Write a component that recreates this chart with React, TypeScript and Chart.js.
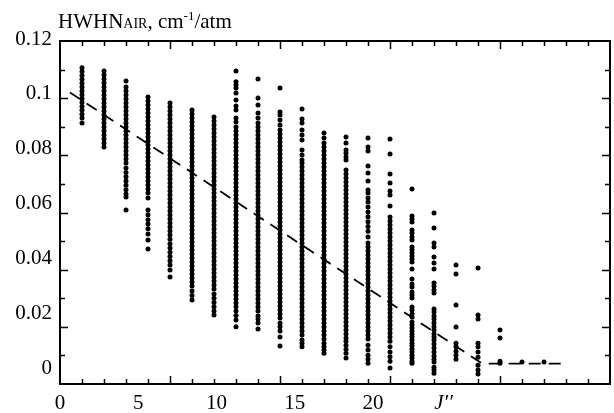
import React, { useEffect, useRef } from 'react';
import { Chart, registerables } from 'chart.js';

Chart.register(...registerables);

// Column positions on the x axis (one column of lines per tick)
const columns = [1, 2, 3, 4, 5, 6, 7, 8, 9, 10, 11, 12, 13, 14, 15, 16, 17, 18, 19, 20, 21, 22];

// HWHN(air) values, in 10^-3 cm-1/atm, read column by column
const col1 = [110.6, 109.3, 107.9, 106.6, 105.2, 103.9, 102.5, 101.2, 99.8, 98.5, 97.1, 95.8, 94.4, 93.1, 91.3];
const col2 = [109.5, 108.1, 106.7, 105.3, 103.9, 102.5, 101.1, 99.7, 98.3, 96.9, 95.5, 94.1, 92.7, 91.3, 89.9, 88.5, 87.1, 85.7, 84.3, 82.9];
const col3 = [106.0, 103.9, 102.5, 101.1, 99.7, 98.3, 96.9, 95.5, 94.1, 92.7, 91.3, 89.9, 88.5, 87.1, 85.7, 84.3, 82.9, 81.5, 80.1, 78.7, 77.3, 75.6, 74.0, 72.5, 71.0, 69.5, 68.0, 66.5, 65.4, 60.9];
const col4 = [100.4, 99.0, 97.6, 96.2, 94.8, 93.4, 92.0, 90.6, 89.2, 87.8, 86.4, 85.0, 83.6, 82.2, 80.8, 79.4, 78.0, 76.6, 75.2, 73.8, 72.4, 71.0, 69.6, 68.2, 66.8, 65.1, 60.9, 59.2, 57.5, 56.0, 54.3, 52.5, 50.4, 47.2];
const col5 = [98.3, 96.9, 95.5, 94.1, 92.7, 91.3, 89.9, 88.5, 87.1, 85.7, 84.3, 82.9, 81.5, 80.1, 78.7, 77.3, 75.9, 74.5, 73.1, 71.7, 70.3, 68.9, 67.5, 66.1, 64.7, 63.3, 61.9, 60.5, 59.1, 57.7, 56.3, 54.9, 53.5, 52.1, 50.6, 49.1, 47.6, 46.1, 44.6, 43.1, 41.6, 39.9, 37.4];
const col6 = [95.9, 94.5, 93.1, 91.7, 90.3, 88.9, 87.5, 86.1, 84.7, 83.3, 81.9, 80.5, 79.1, 77.7, 76.3, 74.9, 73.5, 72.1, 70.7, 69.3, 67.9, 66.5, 65.1, 63.7, 62.3, 60.9, 59.5, 58.1, 56.7, 55.3, 53.9, 52.5, 51.1, 49.7, 48.3, 46.9, 45.5, 44.1, 42.7, 41.3, 39.9, 38.5, 37.1, 35.7, 34.3, 32.5, 31.0, 29.4];
const col7 = [93.4, 92.0, 90.6, 89.2, 87.8, 86.4, 85.0, 83.6, 82.2, 80.8, 79.4, 78.0, 76.6, 75.2, 73.8, 72.4, 71.0, 69.6, 68.2, 66.8, 65.4, 64.0, 62.6, 61.2, 59.8, 58.4, 57.0, 55.6, 54.2, 52.8, 51.4, 50.0, 48.6, 47.2, 45.8, 44.4, 43.0, 41.6, 40.2, 38.8, 37.4, 36.0, 34.6, 33.2, 31.5, 30.0, 28.5, 27.0, 25.5, 24.1];
const col8 = [109.5, 105.7, 104.6, 103.6, 101.8, 99.4, 97.3, 95.9, 93.1, 91.7, 89.9, 88.5, 87.1, 85.7, 84.3, 82.9, 81.5, 80.1, 78.7, 77.3, 75.9, 74.5, 73.1, 71.7, 70.3, 68.9, 67.5, 66.1, 64.7, 63.3, 61.9, 60.5, 59.1, 57.7, 56.3, 54.9, 53.5, 52.1, 50.7, 49.3, 47.9, 46.5, 45.1, 43.7, 42.3, 40.9, 39.5, 38.1, 36.7, 35.3, 33.9, 32.5, 31.1, 29.7, 28.3, 27.0, 25.5, 24.0, 22.4, 20.0];
const col9 = [106.7, 100.1, 97.6, 94.8, 93.1, 91.3, 89.9, 88.5, 87.1, 85.7, 84.3, 82.9, 81.5, 80.1, 78.7, 77.3, 75.9, 74.5, 73.1, 71.7, 70.3, 68.9, 67.5, 66.1, 64.7, 63.3, 61.9, 60.5, 59.1, 57.7, 56.3, 54.9, 53.5, 52.1, 50.7, 49.3, 47.9, 46.5, 45.1, 43.7, 42.3, 40.9, 39.5, 38.1, 36.7, 35.3, 33.9, 32.5, 31.1, 29.7, 28.3, 26.9, 25.5, 23.8, 22.7, 21.3, 19.2];
const col10 = [103.6, 95.2, 94.1, 92.4, 90.6, 88.9, 87.5, 86.1, 84.7, 83.3, 81.9, 80.5, 79.1, 77.7, 76.3, 74.9, 73.5, 72.1, 70.7, 69.3, 67.9, 66.5, 65.1, 63.7, 62.3, 60.9, 59.5, 58.1, 56.7, 55.3, 53.9, 52.5, 51.1, 49.7, 48.3, 46.9, 45.5, 44.1, 42.7, 41.3, 39.9, 38.5, 37.1, 35.7, 34.3, 32.9, 31.5, 30.1, 28.7, 27.3, 25.9, 24.5, 23.1, 21.3, 20.0, 18.5, 16.4, 13.3];
const col11 = [96.2, 92.7, 91.3, 88.9, 87.1, 85.4, 81.9, 80.1, 78.4, 77.3, 75.9, 74.5, 73.1, 71.7, 70.3, 68.9, 67.5, 66.1, 64.7, 63.3, 61.9, 60.5, 59.1, 57.7, 56.3, 54.9, 53.5, 52.1, 50.7, 49.3, 47.9, 46.5, 45.1, 43.7, 42.3, 40.9, 39.5, 38.1, 36.7, 35.3, 33.9, 32.5, 31.1, 29.7, 28.3, 26.9, 25.5, 24.1, 22.7, 21.3, 19.9, 18.5, 17.1, 15.4, 14.3, 13.0];
const col12 = [87.8, 86.1, 84.3, 82.9, 81.5, 80.1, 78.7, 77.3, 75.9, 74.5, 73.1, 71.7, 70.3, 68.9, 67.5, 66.1, 64.7, 63.3, 61.9, 60.5, 59.1, 57.7, 56.3, 54.9, 53.5, 52.1, 50.7, 49.3, 47.9, 46.5, 45.1, 43.7, 42.3, 40.9, 39.5, 38.1, 36.7, 35.3, 33.9, 32.5, 31.1, 29.7, 28.3, 26.9, 25.5, 24.1, 22.7, 21.3, 19.9, 18.5, 17.1, 15.7, 14.3, 13.0, 11.9, 10.8];
const col13 = [86.4, 84.3, 81.9, 80.8, 79.4, 78.4, 74.9, 73.5, 72.1, 70.7, 69.3, 67.9, 66.5, 65.1, 63.7, 62.3, 60.9, 59.5, 58.1, 56.7, 55.3, 53.9, 52.5, 51.1, 49.7, 48.3, 46.9, 45.5, 44.1, 42.7, 41.3, 39.9, 38.5, 37.1, 35.7, 34.3, 32.9, 31.5, 30.1, 28.7, 27.3, 25.9, 24.5, 23.1, 21.7, 20.3, 18.9, 17.5, 16.1, 15.0, 13.6, 12.2, 10.8, 9.1];
const col14 = [86.1, 82.9, 81.5, 76.3, 73.8, 71.0, 67.9, 66.8, 65.1, 63.7, 61.9, 60.2, 58.5, 56.8, 55.1, 53.4, 51.4, 49.3, 47.9, 46.5, 45.1, 43.7, 42.3, 40.9, 39.5, 38.1, 36.7, 35.3, 33.9, 32.5, 31.1, 29.7, 28.3, 26.9, 25.5, 24.1, 22.7, 21.3, 19.9, 18.5, 17.1, 15.7, 13.6, 11.9, 10.1, 8.7, 7.3];
const col15 = [85.7, 80.5, 73.5, 70.3, 67.5, 66.1, 62.3, 58.4, 57.0, 55.6, 54.2, 52.8, 51.4, 50.0, 48.6, 47.2, 45.8, 44.4, 43.0, 41.6, 40.2, 38.8, 37.4, 36.0, 34.6, 33.2, 31.8, 30.4, 29.0, 27.6, 26.2, 24.8, 23.4, 22.0, 20.6, 19.2, 17.8, 16.4, 15.0, 13.0, 11.2, 9.5, 8.0, 5.6];
const col16 = [68.2, 58.8, 57.7, 56.7, 53.9, 52.8, 51.4, 50.4, 47.9, 46.9, 45.8, 44.8, 43.7, 42.7, 40.2, 36.7, 35.0, 33.9, 32.2, 31.1, 30.1, 26.9, 25.9, 24.5, 23.4, 21.7, 20.6, 19.6, 18.5, 17.5, 16.4, 15.4, 14.3, 13.3, 12.2, 11.2, 10.1, 9.1, 8.0, 7.3];
const col17 = [59.8, 54.6, 49.3, 47.9, 44.4, 42.3, 40.2, 35.3, 34.3, 32.9, 31.8, 26.2, 25.2, 23.8, 22.7, 21.3, 20.0, 18.9, 17.5, 16.4, 15.4, 14.0, 12.6, 11.2, 9.8, 8.7, 7.7, 5.9, 4.9, 3.8];
const col18 = [41.6, 38.5, 27.6, 19.9, 14.3, 13.0, 11.5, 10.1, 8.7];
const col19 = [40.6, 24.1, 22.7, 14.3, 13.0, 11.2, 9.4, 6.6, 4.9, 3.5];
const col20 = [18.9, 16.1, 8.0, 7.3];
const col21 = [7.7];
const col22 = [7.7];

const hwhnByColumn = [col1, col2, col3, col4, col5, col6, col7, col8, col9, col10, col11, col12, col13, col14, col15, col16, col17, col18, col19, col20, col21, col22];

// Dashed fit line (x in column units, y in cm-1/atm)
const fitX = [0.45, 19.2, 23.0];
const fitY = [0.102, 0.0071, 0.0071];

// Axis tick labels
const xLabelValues = [0, 5, 10, 15, 20];
const xLabelText = ['0', '5', '10', '15', '20'];
const xAxisTitle = 'J\u2032\u2032';
const xAxisTitleValue = 24.5;
const yLabelValues = [0, 0.02, 0.04, 0.06, 0.08, 0.1, 0.12];
const yLabelText = ['0', '0.02', '0.04', '0.06', '0.08', '0.1', '0.12'];

const FONT = '"Liberation Serif", "Times New Roman", serif';

const framePlugin = {
  id: 'framePlugin',
  afterDraw(chart: any) {
    const { ctx, chartArea } = chart;
    const { left, right, top, bottom } = chartArea;
    const xs = chart.scales.x;
    const ys = chart.scales.y;
    const xl = chart.scales.x2;
    const yl = chart.scales.y2;
    ctx.save();
    ctx.strokeStyle = '#000';
    ctx.lineWidth = 2;
    ctx.strokeRect(left, top, right - left, bottom - top);
    ctx.lineWidth = 1.5;
    ctx.beginPath();
    for (let i = 1; i < 25; i++) {
      const px = Math.round(xs.getPixelForValue(i)) + 0.5;
      const len = i % 5 === 0 ? 8 : 5;
      ctx.moveTo(px, bottom);
      ctx.lineTo(px, bottom - len);
      ctx.moveTo(px, top);
      ctx.lineTo(px, top + len);
    }
    for (let j = 1; j < 12; j++) {
      const py = Math.round(ys.getPixelForValue(j * 0.01)) + 0.5;
      const len = j % 2 === 0 ? 8 : 5;
      ctx.moveTo(left, py);
      ctx.lineTo(left + len, py);
      ctx.moveTo(right, py);
      ctx.lineTo(right - len, py);
    }
    ctx.stroke();

    ctx.fillStyle = '#000';
    ctx.font = `21px ${FONT}`;
    ctx.textBaseline = 'middle';
    ctx.textAlign = 'center';
    xLabelValues.forEach((v, i) => {
      ctx.fillText(xLabelText[i], xl.getPixelForValue(v), bottom + 19.5);
    });
    ctx.font = `italic 21px ${FONT}`;
    ctx.fillText(xAxisTitle, xl.getPixelForValue(xAxisTitleValue), bottom + 19.5);

    ctx.font = `21px ${FONT}`;
    ctx.textAlign = 'right';
    yLabelValues.forEach((v, i) => {
      ctx.fillText(yLabelText[i], left - 8, yl.getPixelForValue(v));
    });

    // Title: HWHN_AIR, cm^-1/atm
    ctx.textAlign = 'left';
    ctx.textBaseline = 'alphabetic';
    let tx = 58;
    const base = 28;
    const part = (text: string, font: string, dy: number) => {
      ctx.font = font;
      ctx.fillText(text, tx, base + dy);
      tx += ctx.measureText(text).width;
    };
    part('HWHN', `21px ${FONT}`, 0);
    part('AIR', `14px ${FONT}`, 0);
    part(', cm', `21px ${FONT}`, 0);
    part('-1', `13px ${FONT}`, -8);
    part('/atm', `21px ${FONT}`, 0);
    ctx.restore();
  },
};

export default function App() {
  const ref = useRef<HTMLCanvasElement | null>(null);
  useEffect(() => {
    document.body.style.margin = '0';
    const points: { x: number; y: number }[] = [];
    hwhnByColumn.forEach((vals, i) => {
      vals.forEach((v) => points.push({ x: columns[i], y: v / 1000 }));
    });
    const fit = fitX.map((x, i) => ({ x, y: fitY[i] }));
    const chart = new Chart(ref.current as HTMLCanvasElement, {
      type: 'scatter',
      data: {
        datasets: [
          {
            data: points,
            pointRadius: 2.5,
            pointBorderWidth: 0,
            pointBackgroundColor: '#000',
            pointBorderColor: '#000',
            showLine: false,
          },
          {
            data: fit,
            showLine: true,
            borderColor: '#000',
            borderWidth: 1.8,
            borderDash: [12, 8],
            pointRadius: 0,
            fill: false,
          } as any,
        ],
      },
      options: {
        responsive: false,
        animation: false,
        layout: { padding: { left: 60, right: 4, top: 41, bottom: 29 } },
        plugins: { legend: { display: false }, tooltip: { enabled: false }, title: { display: false } },
        scales: {
          x: { type: 'linear', min: 0, max: 25, display: false },
          y: { type: 'linear', min: 0, max: 0.12, display: false },
          x2: { type: 'linear', axis: 'x', position: 'bottom', min: 0, max: 35.14, display: false },
          y2: { type: 'linear', axis: 'y', position: 'left', min: -0.00565, max: 0.11927, display: false },
        },
      },
      plugins: [framePlugin],
    });
    return () => chart.destroy();
  }, []);
  return <canvas ref={ref} width={614} height={413} style={{ display: 'block', width: 614, height: 413 }} />;
}
